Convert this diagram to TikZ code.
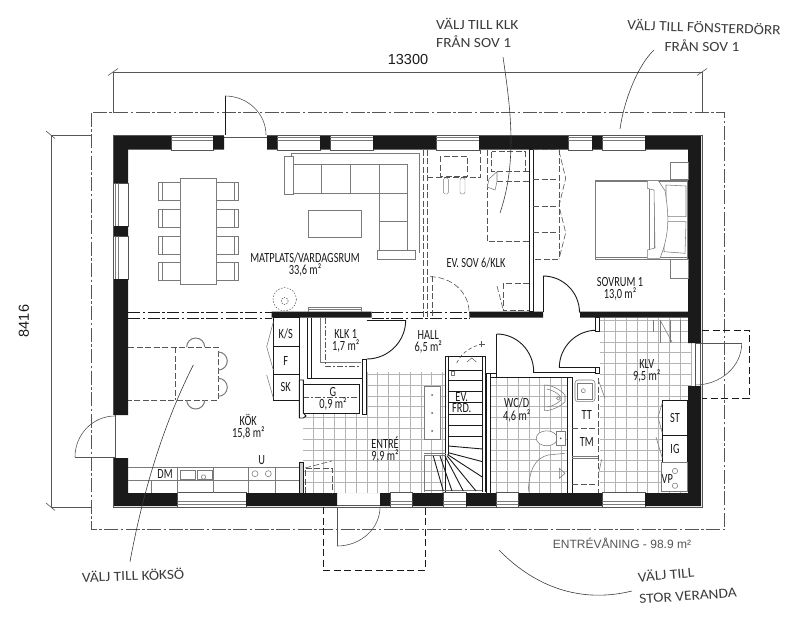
\documentclass[tikz,border=0pt]{standalone}
\usepackage{fontspec}
\usetikzlibrary{positioning}
\setmainfont{Liberation Sans}
\newfontfamily\roomfont[FakeStretch=0.74]{Carlito}
\newfontfamily\handfont[FakeStretch=1.1]{Carlito}
\definecolor{wallblack}{HTML}{1A1A1A}
\definecolor{linegray}{HTML}{555555}
\definecolor{furngray}{HTML}{7A7A7A}
\definecolor{tilegray}{HTML}{B4B4B4}
\definecolor{notegray}{HTML}{3C3C3C}
\tikzset{
  wall/.style={fill=wallblack},
  thinwall/.style={draw=wallblack, line width=0.9pt, fill=white},
  winframe/.style={draw=linegray, line width=0.5pt, fill=white},
  winglass/.style={draw=furngray, line width=0.6pt},
  outline/.style={draw=linegray, line width=0.6pt, dash pattern=on 14pt off 2.5pt on 2.5pt off 2.5pt},
  floorline/.style={draw=wallblack, line width=0.7pt, dash pattern=on 12pt off 2.5pt on 2.5pt off 2.5pt},
  dimline/.style={draw=linegray, line width=0.6pt},
  furn/.style={draw=furngray, line width=0.55pt},
  furnfill/.style={furn, fill=white},
  hidden/.style={draw=linegray, line width=0.6pt, dash pattern=on 6pt off 2.5pt},
  porch/.style={draw=wallblack, line width=1pt, dash pattern=on 7pt off 3.5pt},
  tile/.style={draw=tilegray, line width=0.5pt},
  outerdoor/.style={draw=linegray, line width=0.6pt},
  innerdoor/.style={draw=wallblack, line width=0.9pt},
  tread/.style={draw=wallblack, line width=0.9pt},
  leader/.style={draw=notegray, line width=0.6pt},
  roomlabel/.style={inner sep=0pt, text=wallblack, text height=9pt, text depth=0pt, font=\roomfont\fontsize{14}{14}\selectfont},
  handnote/.style={inner sep=0pt, text=notegray, font=\handfont\fontsize{14}{14}\selectfont},
  dimlabel/.style={inner sep=0pt, text=wallblack, font=\fontsize{14.5}{14.5}\selectfont},
  node distance=3pt
}
\begin{document}
\begin{tikzpicture}[x=1pt,y=-1pt]
  \useasboundingbox (0,0) rectangle (800,618);

  % tiles
  \begin{scope}
    \clip (303,413) -- (366.7,413) -- (366.7,372) -- (445.7,372) -- (445.7,493) -- (303,493) -- cycle
          (490,377) rectangle (567,493)
          (600,318) rectangle (688,343) (600,343) rectangle (692,386) (600,386) rectangle (688,493);
    \foreach \i in {0,...,37} {
      \draw[tile] ({302+\i*10.8},318) -- ({302+\i*10.8},493);
    }
    \foreach \j in {0,...,16} {
      \draw[tile] (300,{320.3+\j*10.8}) -- (695,{320.3+\j*10.8});
    }
  \end{scope}

  % outline and dimensions
  \draw[outline] (91,112.5) rectangle (724.5,529.5);
  \coordinate (dimtl) at (113,72);
  \coordinate (dimtr) at (702,72);
  \coordinate (dimlt) at (51,135);
  \coordinate (dimlb) at (51,507);
  \draw[dimline] (dimtl) -- (dimtr);
  \draw[dimline] (dimlt) -- (dimlb);
  \draw[dimline] (dimtl) -- (113,113);
  \draw[dimline] (dimtr) -- (702,113);
  \draw[dimline] (dimlt) -- (92,135);
  \draw[dimline] (dimlb) -- (92,507);
  \draw[dimline] (108,75.5) -- (118,68.5);
  \draw[dimline] (697,75.5) -- (707,68.5);
  \draw[dimline] (46,131) -- (55,138.5);
  \draw[dimline] (46,503) -- (55,510.5);
  \node[dimlabel] (width) at (408,60) {13300};
  \node[dimlabel, rotate=90] (height) at (24,321) {8416};

  % windows
  \foreach \xa/\xb in {171/213, 277/320, 330/373, 436/479, 568/592, 602/645} {
    \draw[winframe] (\xa,135) rectangle (\xb,150);
    \draw[winglass] (\xa,137.5) -- (\xb,137.5) (\xa,140.5) -- (\xb,140.5);
  }
  \foreach \xa/\xb in {177/246, 390/412.5, 443/466, 496/518.5, 602/645} {
    \draw[winframe] (\xa,492.5) rectangle (\xb,507);
    \draw[winglass] (\xa,504.5) -- (\xb,504.5) (\xa,501.5) -- (\xb,501.5);
  }
  \foreach \ya/\yb in {183/226, 236/279} {
    \draw[winframe] (113,\ya) rectangle (128.5,\yb);
    \draw[winglass] (115.5,\ya) -- (115.5,\yb) (118.5,\ya) -- (118.5,\yb);
  }

  % outer walls
  \draw[draw=linegray, line width=0.6pt] (113,135) -- (224,135) (267,135) -- (702,135) -- (702,507) -- (113,507) -- (113,458) (113,415) -- (113,135);
  \fill[wall] (114,136) rectangle (171,149.5)
              (213,136) rectangle (224,149.5)
              (267,136) rectangle (277,149.5)
              (320,136) rectangle (330,149.5)
              (373,136) rectangle (436,149.5)
              (479,136) rectangle (568,149.5)
              (592,136) rectangle (602,149.5)
              (645,136) rectangle (701,149.5)
              (114,136) rectangle (128,183)
              (114,226) rectangle (128,236)
              (114,279) rectangle (128,415)
              (114,458) rectangle (128,506)
              (114,493) rectangle (177,506)
              (246,493) rectangle (337,506)
              (380,493) rectangle (390,506)
              (412.5,493) rectangle (443,506)
              (466,493) rectangle (496,506)
              (518.5,493) rectangle (602,506)
              (645,493) rectangle (701,506)
              (688,136) rectangle (701,343)
              (688,386) rectangle (701,506)
              (271.7,311.7) rectangle (371.7,317.7)
              (469.3,311.7) rectangle (543,317.7)
              (580,311.7) rectangle (688,317.7);

  % door openings
  \draw[outerdoor] (224,137.5) -- (267,137.5);
  \draw[outerdoor] (115.5,415) -- (115.5,458);
  \draw[outerdoor] (337,505) -- (380,505);
  \draw[outerdoor] (695,343) -- (695,386) (700,343) -- (700,386);
  \draw[innerdoor] (225,96) -- (225,135);
  \draw[outerdoor] (225,96) arc[start angle=-90, end angle=0, x radius=41, y radius=39];
  \draw[outerdoor] (75,457) -- (115,457);
  \draw[outerdoor] (75,457) arc[start angle=180, end angle=270, x radius=40, y radius=41];
  \draw[outerdoor] (337,507) -- (337,546);
  \draw[outerdoor] (337,546) arc[start angle=90, end angle=0, x radius=43, y radius=39];
  \draw[outerdoor] (695,343.3) -- (741.7,343.3);
  \draw[outerdoor] (741.7,343.3) arc[start angle=0, end angle=90, x radius=46.7, y radius=41.7];

  % veranda and porch
  \draw[porch] (323,507) -- (323,570) -- (425,570) -- (425,507);
  \draw[porch] (702,330) -- (749.3,330) -- (749.3,398.3) -- (702,398.3);

  % floor lines
  \draw[floorline] (128,312) -- (271.7,312) (128,318) -- (271.7,318);
  \draw[floorline] (371.7,312) -- (469.3,312) (371.7,318) -- (469.3,318);
  \draw[hidden] (423,149.5) -- (423,318) (427.3,149.5) -- (427.3,318);
  \draw[hidden] (432.7,276) -- (432.7,318);
  \draw[hidden] (430,276.7) arc[start angle=-90, end angle=0, x radius=39, y radius=35];

  % dining area
  \draw[furn] (180,178) rectangle (216,284.7);
  \foreach \ya/\yb in {182.7/200.7, 209.3/227.3, 236/254, 262.7/280} {
    \draw[furn] (180,\ya) -- (158.3,\ya) -- (158.3,\yb) -- (180,\yb) (162,\ya) -- (162,\yb);
    \draw[furn] (216,\ya) -- (238.3,\ya) -- (238.3,\yb) -- (216,\yb) (234.3,\ya) -- (234.3,\yb);
  }

  % sofa
  \draw[furn] (291.7,156) -- (291.7,153.3) -- (419,153.3) -- (419,252.7);
  \draw[furn] (293.3,164) -- (407.7,164) -- (407.7,250.7) (293.3,193.3) -- (407.7,193.3) (379,221.7) -- (407.7,221.7);
  \draw[furn] (321.3,164) -- (321.3,193.3) (350.3,164) -- (350.3,193.3) (379,164) -- (379,250.7);
  \draw[furnfill] (284,156) rectangle (293.3,194.3);
  \draw[furnfill] (377.3,250.7) rectangle (415.7,259.3);
  \draw[furn] (308,210.7) rectangle (361.7,237.3);
  \draw[furn] (308,311.7) -- (308,307) -- (361.7,307) -- (361.7,311.7) (308,309) -- (361.7,309);
  \draw[draw=linegray, line width=0.5pt, dash pattern=on 1.5pt off 1.5pt] (284.7,299.3) circle[radius=11.7];
  \draw[draw=linegray, line width=0.5pt, dash pattern=on 1.5pt off 1pt] (284.7,301) circle[radius=3.5];

  % ev sov
  \draw[hidden] (427.3,177.3) -- (480.7,177.3) -- (480.7,149.5);
  \draw[hidden] (440,156) rectangle (467.3,176);
  \draw[furngray, line width=0.4pt, rounded corners=1.5pt] (443.3,178) rectangle (448.3,194) (460,178) rectangle (465,194);
  \draw[hidden] (487.3,149.5) -- (487.3,241.7) -- (529,241.7);
  \draw[hidden] (491.7,151.7) rectangle (525,171.7);
  \draw[hidden] (497,171.7) -- (529,171.7) (497,181.7) -- (529,181.7);
  \draw[furnfill] (497,171.7) -- (489,179) -- (487.3,187) -- (495,190) -- (497,181.7) -- cycle;
  \draw[hidden] (529,283.3) -- (503.3,283.3) -- (503.3,310.7) -- (529,310.7);
  \draw[hidden] (497,286) -- (503.3,310);
  \draw[thinwall] (529,149.5) rectangle (533.3,311.7);

  % wardrobes
  \draw[hidden] (533.3,149.5) -- (559,149.5) -- (559,259) -- (533.3,259);
  \draw[hidden] (533.3,179.3) -- (559,179.3) (533.3,206) -- (559,206) (533.3,232.7) -- (559,232.7);
  \draw[hidden] (559,151) -- (565.7,178.3) -- (559,206) -- (565.7,232.7) -- (559,259);

  % door to sovrum
  \draw[innerdoor] (543,276) -- (543,311.7);
  \draw[innerdoor] (543,276) arc[start angle=-90, end angle=0, radius=36.5];

  % bed
  \draw[furn] (670,162.7) rectangle (688,179.3) (670,259) rectangle (688,278.3);
  \draw[furnfill] (595.3,180) rectangle (687.7,259);
  \draw[furn] (595.3,181.5) -- (687.7,181.5) (595.3,257.5) -- (687.7,257.5);
  \draw[furn, fill=white] (666,185) -- (686,186) -- (686,216.7) -- (666,216.7) -- cycle;
  \draw[furn, fill=white] (664,221.7) -- (686,221.7) -- (685,253.3) -- (664,251.7) -- cycle;
  \draw[furn] (649.3,188) -- (649.3,250) (654,188) -- (654,250);
  \draw[furnfill] (647.3,180.7) -- (658.3,180.7) -- (665,190.7) .. controls (669,215) and (669,230) .. (663.3,249) -- (660,258.3) -- (647.3,258.3) -- (647.3,250) -- (655,248) -- (654,190) -- (647.3,188.3) -- cycle;
  \draw[furn] (649.3,190) -- (649.3,249);

  % kitchen
  \draw[hidden] (128,347.3) -- (218.3,347.3) -- (218.3,400) -- (128,400);
  \draw[hidden] (175,347.3) -- (175,400);
  \draw[draw=furngray, line width=1pt] (186.7,347) arc[start angle=180, end angle=360, radius=9];
  \draw[draw=furngray, line width=1pt] (186.7,400) arc[start angle=180, end angle=0, radius=9];
  \draw[draw=furngray, line width=1pt] (218.3,352) arc[start angle=-90, end angle=90, radius=9];
  \draw[draw=furngray, line width=1pt] (218.3,378.3) arc[start angle=-90, end angle=90, radius=9];
  \draw[furn] (128,467.7) -- (299.3,467.7) (128,480) -- (299.3,480);
  \draw[furn] (151.7,480) -- (151.7,493) (177.7,467.7) -- (177.7,493) (213.3,467.7) -- (213.3,493);
  \draw[furn] (248.3,467.7) -- (248.3,493) (275,467.7) -- (275,493);
  \draw[furn] (180.7,470) rectangle (195,479.3) (197,470) rectangle (212.7,479.3);
  \draw[furn] (203.5,477) circle[radius=2.2];
  \draw[furn] (255,473.7) circle[radius=3] (268.3,473.7) circle[radius=3];
  \draw[thinwall, fill=furngray!40] (299.3,462.7) rectangle (303.3,493);
  \draw[hidden] (305,493) -- (305,468) -- (332,468) -- (332,493);
  \draw[hidden] (305,468) -- (331.7,461);

  % cabinets
  \draw[thinwall, line width=0.7pt] (273.3,317.7) rectangle (299.3,346.7) (273.3,346.7) rectangle (299.3,374) (273.3,374) rectangle (299.3,400);
  \draw[furn] (273.3,322) -- (266.7,346.7) -- (273.3,370) (266.7,375) -- (273.3,398);

  % klk and g
  \draw[draw=wallblack, line width=0.8pt] (307.3,317.7) -- (307.3,378.3) -- (362.7,378.3) (311,317.7) -- (311,378.3);
  \draw[thinwall] (362.7,359.3) rectangle (366.7,414);
  \draw[furn] (320.7,317.7) -- (320.7,362) -- (361,362);
  \draw[draw=linegray, line width=0.6pt, dash pattern=on 6pt off 2pt on 2pt off 2pt] (325.7,317.7) -- (325.7,366) -- (361,366);
  \draw[innerdoor] (366.7,320) -- (405.7,320);
  \draw[innerdoor] (405.7,320) arc[start angle=0, end angle=90, radius=39];
  \draw[thinwall, line width=0.7pt] (303.3,384) rectangle (359.3,413);
  \draw[draw=linegray, line width=0.6pt, dash pattern=on 6pt off 2pt on 2pt off 2pt] (303.3,397) -- (359.3,397);
  \draw[thinwall] (299.3,380) -- (303.3,380) -- (303.3,413) -- (306,416) -- (303.3,418) -- (299.3,418) -- cycle;

  % stairs
  \draw[furnfill] (424,386.7) rectangle (440,439.3);
  \fill[wallblack!70] (432,395) circle[radius=1] (432,413) circle[radius=1] (432,431) circle[radius=1];
  \fill[white] (445.7,356) rectangle (485.3,491.7);
  \draw[draw=wallblack, line width=0.6pt] (445.7,356) -- (445.7,491.7) (448.3,356) -- (448.3,455) (482.7,356) -- (482.7,491.7) (485.3,356) -- (485.3,491.7) (445.7,356) -- (485.3,356);
  \draw[furn] (424,491.7) -- (424,455.7) -- (445.7,455.7) (424,453.3) -- (445.7,453.3) (424,490) -- (482,490);
  \foreach \yt in {370, 380.7, 391.7, 402.7, 414, 425, 436} {
    \draw[tread] (448.3,\yt) -- (482.7,\yt);
  }
  \draw[tread] (448.3,446) -- (482.7,449);
  \draw[tread] (448.3,452.7) -- (482.7,461.7);
  \draw[tread] (447.5,454.5) -- (482.7,477.3);
  \draw[tread] (447,455.7) -- (476,491);
  \draw[tread] (445,456) -- (463.3,491);
  \draw[tread] (440,456) -- (452,491);
  \draw[tread] (433.3,456) -- (443.3,491);
  \draw[draw=linegray, line width=0.6pt, dash pattern=on 3.5pt off 2.5pt] (456.7,363) .. controls (462,352) and (471,347) .. (481.7,344);
  \draw[linegray, line width=0.5pt] (478.7,344) -- (484.7,344) (481.7,341) -- (481.7,347);
  \draw[linegray, line width=0.5pt] (467,362) -- (471.7,358) -- (476.4,362);
  \draw[furn] (451.7,371) rectangle (454.5,375);

  % hall and wc walls
  \draw[thinwall] (486,373) rectangle (490,493);
  \draw[draw=wallblack, line width=0.9pt] (486,373) -- (496.7,373) (490,377.3) -- (567.5,377.3) (533.3,372.7) -- (600,372.7);
  \draw[thinwall] (567.5,377.3) rectangle (572.3,493);
  \draw[innerdoor] (496.7,334) -- (496.7,377.3);
  \draw[innerdoor] (496.7,334) arc[start angle=-90, end angle=0, x radius=37, y radius=38];
  \draw[innerdoor] (559.3,367.7) -- (597,367.7);
  \draw[innerdoor] (559.3,367.7) arc[start angle=180, end angle=270, radius=37.5];
  \draw[thinwall] (595,317.7) rectangle (599.7,331);
  \draw[thinwall] (595,367) rectangle (599.7,373);

  % wc
  \draw[furn] (544.7,385) .. controls (552,385) and (561,390) .. (565,395) -- (565,401.7) .. controls (561,406) and (552,410.7) .. (544.7,410.7) -- cycle;
  \draw[furn] (546.7,389) .. controls (552,390) and (558,393) .. (561,397) -- (561,400) .. controls (557,404) and (552,406.5) .. (546.7,407);
  \draw[furn] (558.3,398.3) circle[radius=1.8];
  \draw[furn, fill=white] (546.7,438.3) ellipse[x radius=10.5, y radius=7.5];
  \draw[furnfill] (556,431) rectangle (565.7,445.5);
  \fill[linegray] (560.7,438.3) circle[radius=1];
  \draw[furn] (528.3,491.7) .. controls (529,470) and (535,458) .. (548.3,455) -- (565,453.3);
  \draw[furn] (559.3,468.3) -- (565,473.3) -- (559.3,478.3) -- cycle;

  % tt tm
  \draw[furn, rounded corners=3pt] (575,380) rectangle (595,401.7);
  \draw[furn] (577.5,383) rectangle (592.5,399);
  \draw[furn] (583.3,390.7) circle[radius=2];
  \draw[hidden] (598.3,378) -- (598.3,493);
  \draw[hidden] (572.3,428.3) -- (598.3,428.3) (572.3,484) -- (598.3,484);
  \draw[furn] (572.3,456) -- (598.3,456) (572.3,458) -- (598.3,458);
  \draw[furn] (598.3,380) -- (605,398.3);
  \draw[furn] (601.7,459.3) -- (598.3,475);

  % klv
  \draw[furn] (653,320) -- (653,332) (660,320) -- (660,343) (670,320) -- (670,343) (680,320) -- (680,343);
  \draw[furn] (660,320) -- (672,342);
  \draw[thinwall, line width=0.7pt] (662.3,400.7) rectangle (687.7,435) (662.3,435) rectangle (687.7,462.3);
  \draw[furnfill] (661.7,462.3) rectangle (687.7,491.7);
  \draw[furn] (675,471) circle[radius=2.7] (675,485.7) circle[radius=2.7];
  \draw[furn] (662.3,403) -- (658,417) -- (662.3,433);
  \draw[furn] (656,437) -- (662.3,458);

  % room labels
  \node[roomlabel] (matplats) at (305,258) {MATPLATS/VARDAGSRUM};
  \node[roomlabel, below=of matplats] (matplatsarea) {33,6 m²};
  \node[roomlabel] (evsov) at (476,263) {EV. SOV 6/KLK};
  \node[roomlabel] (sovrum) at (620,282) {SOVRUM 1};
  \node[roomlabel, below=of sovrum] (sovrumarea) {13,0 m²};
  \node[roomlabel] (klkett) at (345.7,334) {KLK 1};
  \node[roomlabel, below=of klkett] (klkettarea) {1,7 m²};
  \node[roomlabel] (hall) at (428.3,335) {HALL};
  \node[roomlabel, below=of hall] (hallarea) {6,5 m²};
  \node[roomlabel] (ks) at (285.7,334) {K/S};
  \node[roomlabel] (fack) at (285.7,360.7) {F};
  \node[roomlabel] (sk) at (285.7,387) {SK};
  \node[roomlabel] (gard) at (333,392) {G};
  \node[roomlabel, below=of gard] (gardarea) {0,9 m²};
  \node[roomlabel] (kok) at (248.3,421) {KÖK};
  \node[roomlabel, below=of kok] (kokarea) {15,8 m²};
  \node[roomlabel] (diskm) at (165,474) {DM};
  \node[roomlabel] (ugn) at (261.7,460) {U};
  \node[roomlabel] (entre) at (385,444) {ENTRÉ};
  \node[roomlabel, below=of entre] (entrearea) {9,9 m²};
  \node[roomlabel] (evfrd) at (461.7,396.7) {EV.};
  \node[roomlabel, below=2pt of evfrd] (evfrdb) {FRD.};
  \node[roomlabel] (wcd) at (516.7,403.3) {WC/D};
  \node[roomlabel, below=of wcd] (wcdarea) {4,6 m²};
  \node[roomlabel] (tt) at (586.7,415) {TT};
  \node[roomlabel] (tm) at (586.7,441.7) {TM};
  \node[roomlabel] (klv) at (646.7,364) {KLV};
  \node[roomlabel, below=of klv] (klvarea) {9,5 m²};
  \node[roomlabel] (st) at (675,418) {ST};
  \node[roomlabel] (ig) at (675,448.5) {IG};
  \node[roomlabel] (vp) at (667.3,479) {VP};
  \node[inner sep=0pt, text=linegray, font=\fontsize{12}{12}\selectfont] (level) at (622,543.5) {ENTRÉVÅNING - 98.9 m²};

  % notes
  \node[handnote, anchor=west] (noteklk) at (436,24) {VÄLJ TILL KLK};
  \node[handnote, below=6pt of noteklk.south west, anchor=north west] (noteklkb) {FRÅN SOV 1};
  \node[handnote, rotate=-2] (notedoor) at (704,27) {VÄLJ TILL FÖNSTERDÖRR};
  \node[handnote] (notedoorb) at (702,46) {FRÅN SOV 1};
  \node[handnote, rotate=2] (notekok) at (133,575) {VÄLJ TILL KÖKSÖ};
  \node[handnote, rotate=5] (noteveranda) at (666,574) {VÄLJ TILL};
  \node[handnote, rotate=4] (noteverandab) at (688,596) {STOR VERANDA};

  % leaders
  \coordinate (klkstart) at (503,57);
  \coordinate (klkend) at (500,213);
  \coordinate (doorstart) at (654,50);
  \coordinate (doorend) at (620,129);
  \coordinate (kokstart) at (193.3,365);
  \coordinate (kokend) at (130,561.7);
  \coordinate (verstart) at (499,550);
  \coordinate (verend) at (632,591);
  \draw[leader] (klkstart) .. controls (510,105) and (518,160) .. (klkend);
  \draw[leader] (doorstart) .. controls (638,65) and (624,100) .. (doorend);
  \draw[leader] (kokstart) .. controls (168,415) and (145,480) .. (kokend);
  \draw[leader] (verstart) .. controls (530,582) and (575,605) .. (verend);
\end{tikzpicture}
\end{document}
